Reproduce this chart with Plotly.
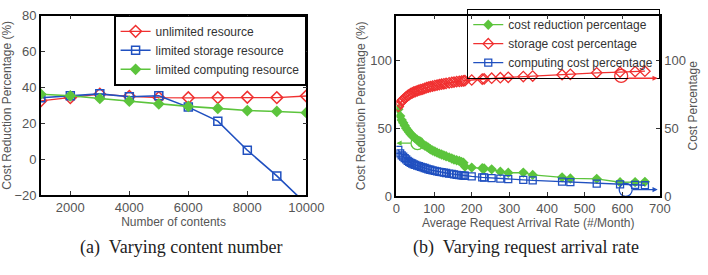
import plotly.graph_objects as go

# ---------------- Panel (a) data ----------------
contents = [1000, 2000, 3000, 4000, 5000, 6000, 7000, 8000, 9000, 10000]
unlimited = [32.5, 34.3, 36.2, 35.0, 34.3, 34.2, 34.3, 34.5, 34.3, 35.2]
limited_storage = [34.2, 35.3, 36.4, 34.8, 35.3, 29.0, 21.2, 5.0, -9.3, -25.0]
limited_computing = [36.2, 35.3, 33.8, 32.3, 30.8, 29.4, 28.3, 27.1, 26.6, 25.9]

# ---------------- Panel (b) data ----------------
rate = [5, 10, 14, 18, 22, 26, 30, 34, 38, 42, 46, 50, 55, 60, 65, 70, 75, 80, 85, 90,
        96, 102, 108, 114, 120, 126, 132, 140, 147, 153, 160, 167, 173, 178, 182,
        200, 228, 233, 253, 276, 297, 337, 362, 440, 462, 532, 594, 634, 660]
cost_reduction = [64, 59, 56, 54, 52, 50, 48.5, 47, 45.5, 44.5, 43.5, 42.5, 41.5, 40, 39,
                  38.2, 37.3, 36.5, 35.6, 34.5, 33.6, 32.8, 32, 31.3, 30.6, 30, 29.3, 28.5,
                  27.7, 27, 26.4, 25.8, 25.2, 24.6, 21.8, 21, 20.5, 20.3, 19.7, 18, 17.2,
                  17.3, 15.6, 13.8, 13, 12.7, 10.2, 10.3, 10.5]
storage_cost = [66, 68.5, 70, 71, 72, 73, 74, 74.8, 75.5, 76, 76.6, 77, 77.5, 78, 78.5,
                78.8, 79.3, 79.8, 80.3, 80.6, 81, 81.4, 81.8, 82.1, 82.4, 82.7, 83, 83.4,
                83.7, 84, 84.3, 84.5, 84.7, 84.9, 85, 85.5, 86.2, 86.3, 86.8, 87.2, 87.5,
                88, 88.4, 89.4, 89.7, 90.8, 91.3, 91.7, 92]
computing_cost = [34, 31.5, 30, 29, 28, 27, 26, 25.2, 24.5, 24, 23.4, 23, 22.5, 22, 21.5,
                  21.2, 20.7, 20.2, 19.7, 19.4, 19, 18.6, 18.2, 17.9, 17.6, 17.3, 17, 16.6,
                  16.3, 16, 15.7, 15.5, 15.3, 15.1, 15, 14.5, 13.8, 13.7, 13.2, 12.8, 12.5,
                  12, 11.6, 10.6, 10.3, 9.2, 8.7, 8.3, 8]

# axis-indicator marks (ellipse + arrow) in panel (b)
circle_x = [56, 597, 609]
circle_y = [39, 88.5, 4.6]
circle_colors = ["#5cc43c", "#f03030", "#2050c0"]
arrow_from_x = [42, 612, 624]
arrow_from_y = [39, 86.8, 4.8]
arrow_to_x = [0, 694, 694]
arrow_to_y = [39, 86.8, 4.8]

# ticks
xa_ticks = [2000, 4000, 6000, 8000, 10000]
xa_ticktext = ["2000", "4000", "6000", "8000", "10000"]
ya_ticks = [-20, 0, 20, 40, 60, 80]
xb_ticks = [0, 100, 200, 300, 400, 500, 600, 700]
yb_ticks = [0, 50, 100]

RED = "#f03030"
BLUE = "#2050c0"
GREEN = "#5cc43c"
TICKC = "#555555"
FONT = "Liberation Sans, Arial, sans-serif"

fig = go.Figure()

# Panel (a)
fig.add_trace(go.Scatter(x=contents, y=unlimited, name="unlimited resource", mode="lines+markers",
                         line=dict(color=RED, width=1.3),
                         marker=dict(symbol="diamond-open", size=9, color=RED, line=dict(width=1.5)),
                         xaxis="x", yaxis="y", legend="legend"))
fig.add_trace(go.Scatter(x=contents, y=limited_storage, name="limited storage resource", mode="lines+markers",
                         line=dict(color=BLUE, width=1.6),
                         marker=dict(symbol="square-open", size=8, color=BLUE, line=dict(width=1.5)),
                         xaxis="x", yaxis="y", legend="legend"))
fig.add_trace(go.Scatter(x=contents, y=limited_computing, name="limited computing resource", mode="lines+markers",
                         line=dict(color=GREEN, width=1.6),
                         marker=dict(symbol="diamond", size=9, color=GREEN),
                         xaxis="x", yaxis="y", legend="legend"))

# Panel (b)
fig.add_trace(go.Scatter(x=rate, y=cost_reduction, name="cost reduction percentage", mode="lines+markers",
                         line=dict(color=GREEN, width=1.3),
                         marker=dict(symbol="diamond", size=8, color=GREEN),
                         xaxis="x2", yaxis="y2", legend="legend2"))
fig.add_trace(go.Scatter(x=rate, y=storage_cost, name="storage cost percentage", mode="lines+markers",
                         line=dict(color=RED, width=1.3),
                         marker=dict(symbol="diamond-open", size=8, color=RED, line=dict(width=1.3)),
                         xaxis="x2", yaxis="y3", legend="legend2"))
fig.add_trace(go.Scatter(x=rate, y=computing_cost, name="computing cost percentage", mode="lines+markers",
                         line=dict(color=BLUE, width=1.3),
                         marker=dict(symbol="square-open", size=7, color=BLUE, line=dict(width=1.3)),
                         xaxis="x2", yaxis="y3", legend="legend2"))

for cx, cy, cc in zip(circle_x, circle_y, circle_colors):
    fig.add_trace(go.Scatter(x=[cx], y=[cy], mode="markers", showlegend=False, hoverinfo="skip",
                             marker=dict(symbol="circle-open", size=13, color=cc, line=dict(width=1.3)),
                             cliponaxis=False, xaxis="x2", yaxis="y3"))

for fx, fy, tx, ty, cc in zip(arrow_from_x, arrow_from_y, arrow_to_x, arrow_to_y, circle_colors):
    fig.add_annotation(x=tx, y=ty, ax=fx, ay=fy, xref="x2", yref="y3", axref="x2", ayref="y3",
                       showarrow=True, arrowhead=2, arrowsize=0.8, arrowwidth=1.3, arrowcolor=cc, text="")

# captions
fig.add_annotation(x=183 / 708, y=1 - 254 / 275, xref="paper", yref="paper",
                   text="(a)  Varying content number", showarrow=False,
                   font=dict(family="Liberation Serif, Times New Roman, serif", size=18, color="#222"),
                   xanchor="center", yanchor="middle")
fig.add_annotation(x=539 / 708, y=1 - 254 / 275, xref="paper", yref="paper",
                   text="(b)  Varying request arrival rate", showarrow=False,
                   font=dict(family="Liberation Serif, Times New Roman, serif", size=18, color="#222"),
                   xanchor="center", yanchor="middle")

axis_common = dict(showline=True, linecolor="black", linewidth=1.5, ticks="inside", ticklen=4,
                   tickcolor="#333", tickwidth=1, showgrid=False, zeroline=False,
                   tickfont=dict(family=FONT, size=13, color=TICKC),
                   title_font=dict(family=FONT, size=12, color=TICKC))

ytop = 1 - 9 / 275
ybot = 1 - 200 / 275
legtop = 1 - 2 / 275

fig.update_layout(
    width=708, height=275, margin=dict(l=0, r=0, t=0, b=0),
    paper_bgcolor="white", plot_bgcolor="white",
    font=dict(family=FONT, size=12, color=TICKC),
    xaxis=dict(domain=[38 / 708, 312 / 708], range=[1000, 10000], tickvals=xa_ticks,
               ticktext=xa_ticktext,
               mirror="ticks", anchor="y", title=dict(text="Number of contents", standoff=0),
               **axis_common),
    yaxis=dict(domain=[1 - 199 / 275, ytop], range=[-20, 80], tickvals=ya_ticks,
               mirror="ticks", anchor="x", title=dict(text="Cost Reduction Percentage (%)", standoff=2),
               **axis_common),
    xaxis2=dict(domain=[405 / 708, 677 / 708], range=[0, 700], tickvals=xb_ticks,
                mirror="ticks", anchor="y2",
                title=dict(text="Average Request Arrival Rate (#/Month)", standoff=0),
                **axis_common),
    yaxis2=dict(domain=[ybot, ytop], range=[0, 133], tickvals=yb_ticks,
                anchor="x2", side="left", title=dict(text="Cost Reduction Percentage (%)", standoff=2),
                **axis_common),
    yaxis3=dict(range=[0, 133], tickvals=yb_ticks, overlaying="y2", anchor="x2", side="right",
                title=dict(text="Cost Percentage", standoff=4), **axis_common),
    legend=dict(x=312 / 708, y=ytop, xanchor="right", yanchor="top", bgcolor="white",
                bordercolor="black", borderwidth=1.3, tracegroupgap=0, itemwidth=30,
                font=dict(family=FONT, size=12, color="#333")),
    legend2=dict(x=677 / 708, y=legtop, xanchor="right", yanchor="top", bgcolor="rgba(255,255,255,0)",
                 bordercolor="black", borderwidth=1.3, tracegroupgap=0, itemwidth=30,
                 font=dict(family=FONT, size=12, color="#333")),
)

fig.write_html("out.html")
